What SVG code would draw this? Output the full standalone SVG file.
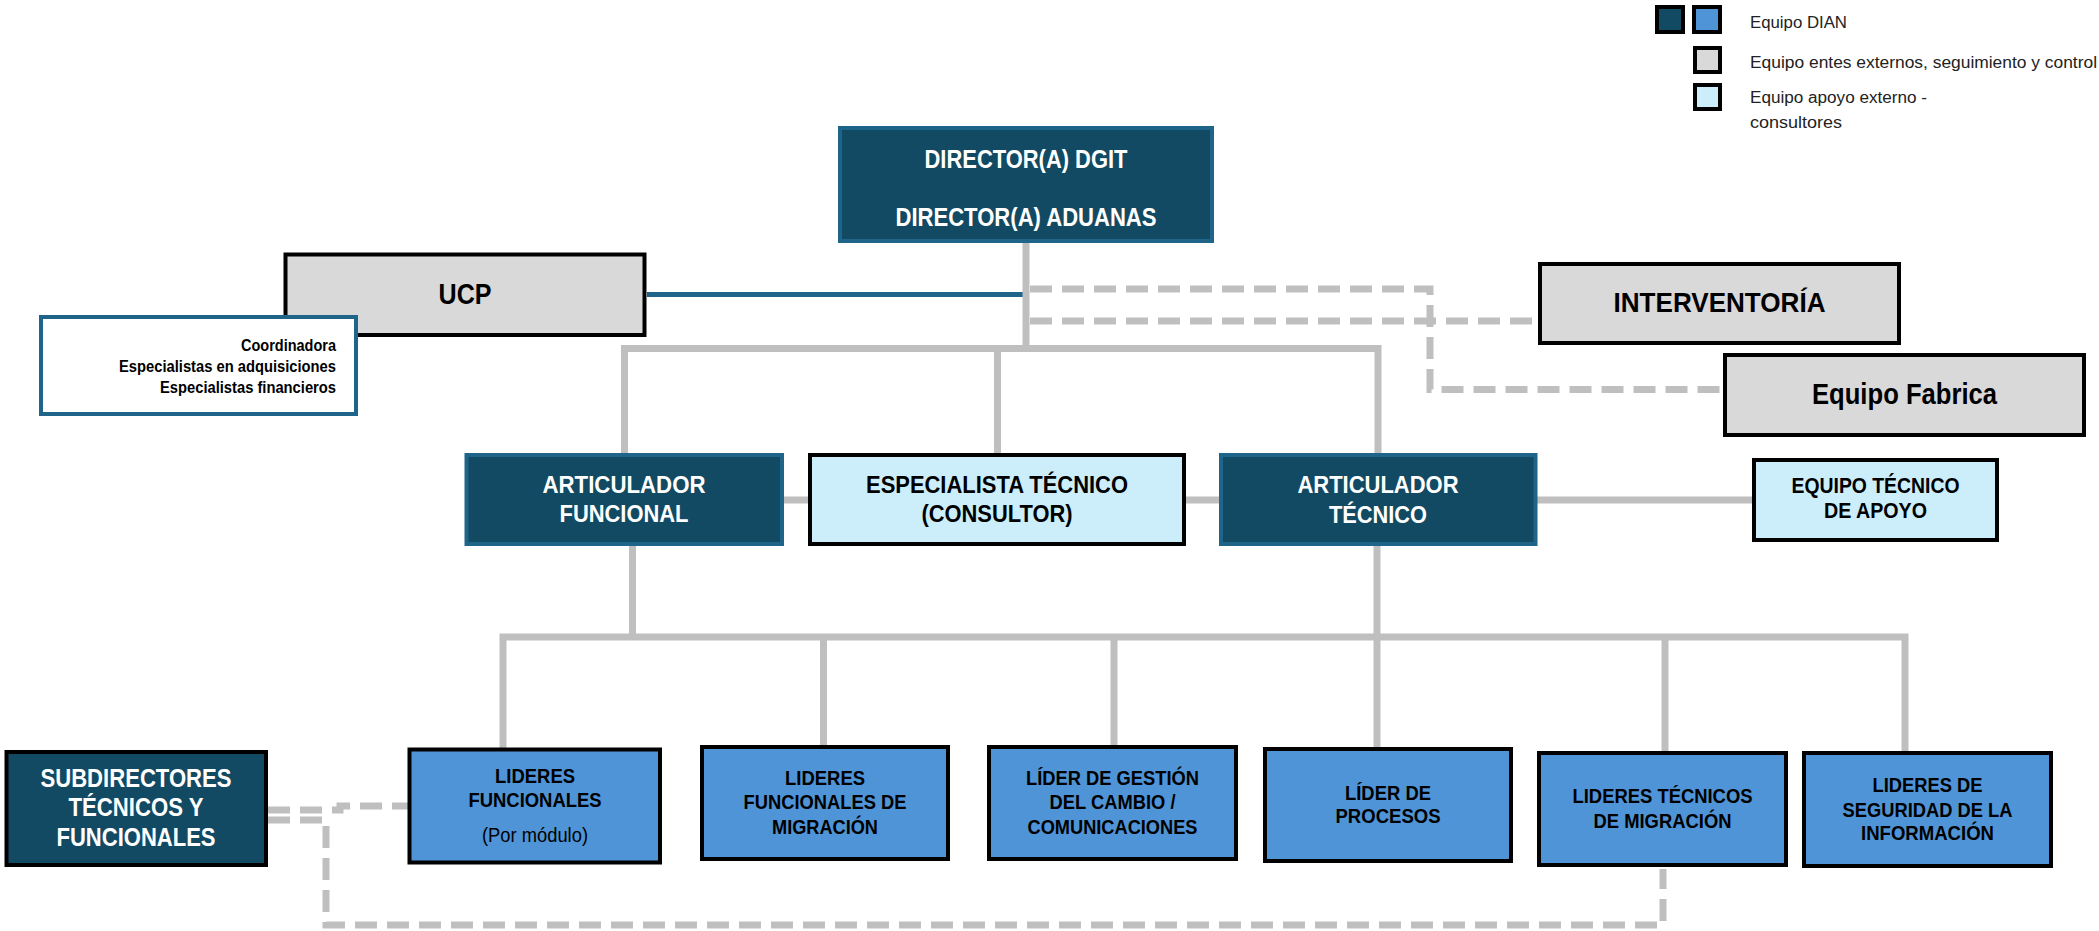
<svg xmlns="http://www.w3.org/2000/svg" width="2099" height="931" viewBox="0 0 2099 931">
<style>
.dark{fill:#124A63;stroke:#1F6489;stroke-width:4}
.darkb{fill:#124A63;stroke:#000;stroke-width:4}
.blue{fill:#4F94D7;stroke:#000;stroke-width:4}
.light{fill:#CCEEFA;stroke:#000;stroke-width:4}
.gray{fill:#D9D9D9;stroke:#000;stroke-width:4}
.note{fill:#FFFFFF;stroke:#1F6489;stroke-width:4}
.t{font-family:"Liberation Sans Narrow","Liberation Sans",Arial,sans-serif;font-weight:bold;text-anchor:middle}
.w{fill:#FFFFFF}
.k{fill:#000000}
.n{font-weight:normal}
.leg{font-family:"Liberation Sans",Arial,sans-serif;font-size:16px;fill:#222}
.solid{fill:none;stroke:#BFBFBF;stroke-width:7}
.dash{fill:none;stroke:#BFBFBF;stroke-width:7;stroke-dasharray:22 10}
.ucpl{fill:none;stroke:#1F6489;stroke-width:5}
</style>

<g id="connectors">
  <path class="ucpl" d="M647,294.5 H1024"/>
  <path class="solid" d="M1026,242 V348.5"/>
  <path class="solid" d="M624.5,455 V348.5 H1378 V455"/>
  <path class="solid" d="M997.5,348.5 V455"/>
  <path class="solid" d="M784,500 H810"/>
  <path class="solid" d="M1186,500 H1221"/>
  <path class="solid" d="M1537,500 H1754"/>
  <path class="solid" d="M632.5,546 V637"/>
  <path class="solid" d="M1377,546 V749"/>
  <path class="solid" d="M503,749 V637 H1905 V753"/>
  <path class="solid" d="M823.5,637 V747"/>
  <path class="solid" d="M1114,637 V747"/>
  <path class="solid" d="M1665,637 V753"/>
  <path class="dash" d="M1030,289 H1430 V389.5 H1725"/>
  <path class="dash" d="M1030,321 H1540"/>
  <path class="dash" d="M268,810 H340 V806 H409"/>
  <path class="dash" d="M268,820 H326 V925 H1663 V869"/>
</g>

<g id="legend">
  <rect class="darkb" x="1657" y="7" width="26" height="25"/>
  <rect class="blue" x="1694" y="7" width="26" height="25"/>
  <text class="leg" x="1750" y="28" textLength="97" lengthAdjust="spacingAndGlyphs">Equipo DIAN</text>
  <rect class="gray" x="1695" y="48" width="25" height="24"/>
  <text class="leg" x="1750" y="68" textLength="347" lengthAdjust="spacingAndGlyphs">Equipo entes externos, seguimiento y control</text>
  <rect class="light" x="1695" y="85" width="25" height="24"/>
  <text class="leg" x="1750" y="103" textLength="177" lengthAdjust="spacingAndGlyphs">Equipo apoyo externo -</text>
  <text class="leg" x="1750" y="128" textLength="92" lengthAdjust="spacingAndGlyphs">consultores</text>
</g>

<g id="director">
  <rect class="dark" x="840" y="128" width="372" height="113"/>
  <text class="t w" x="1026" y="168" font-size="26" textLength="203" lengthAdjust="spacingAndGlyphs">DIRECTOR(A) DGIT</text>
  <text class="t w" x="1026" y="226" font-size="26" textLength="261" lengthAdjust="spacingAndGlyphs">DIRECTOR(A) ADUANAS</text>
</g>

<g id="ucp">
  <rect class="gray" x="285.5" y="254.5" width="359" height="80.5"/>
  <text class="t k" x="465" y="304" font-size="29" textLength="53" lengthAdjust="spacingAndGlyphs">UCP</text>
</g>

<g id="ucp-equipo">
  <rect class="note" x="41" y="317" width="315" height="97"/>
  <text class="t k" style="text-anchor:end" x="336" y="351" font-size="16" textLength="95" lengthAdjust="spacingAndGlyphs">Coordinadora</text>
  <text class="t k" style="text-anchor:end" x="336" y="372" font-size="16" textLength="217" lengthAdjust="spacingAndGlyphs">Especialistas en adquisiciones</text>
  <text class="t k" style="text-anchor:end" x="336" y="393" font-size="16" textLength="176" lengthAdjust="spacingAndGlyphs">Especialistas financieros</text>
</g>

<g id="interventoria">
  <rect class="gray" x="1540" y="264" width="359" height="79"/>
  <text class="t k" x="1719.5" y="312" font-size="28" textLength="212" lengthAdjust="spacingAndGlyphs">INTERVENTORÍA</text>
</g>

<g id="equipo-fabrica">
  <rect class="gray" x="1725" y="355" width="359" height="80"/>
  <text class="t k" x="1904.5" y="404" font-size="30" textLength="185" lengthAdjust="spacingAndGlyphs">Equipo Fabrica</text>
</g>

<g id="articulador-funcional">
  <rect class="dark" x="466.5" y="455" width="315.5" height="89"/>
  <text class="t w" x="624" y="493" font-size="24" textLength="163" lengthAdjust="spacingAndGlyphs">ARTICULADOR</text>
  <text class="t w" x="624" y="522" font-size="24" textLength="129" lengthAdjust="spacingAndGlyphs">FUNCIONAL</text>
</g>

<g id="especialista-tecnico">
  <rect class="light" x="810" y="455" width="374" height="89"/>
  <text class="t k" x="997" y="493" font-size="24" textLength="262" lengthAdjust="spacingAndGlyphs">ESPECIALISTA TÉCNICO</text>
  <text class="t k" x="997" y="522" font-size="24" textLength="151" lengthAdjust="spacingAndGlyphs">(CONSULTOR)</text>
</g>

<g id="articulador-tecnico">
  <rect class="dark" x="1221" y="455" width="314.5" height="89"/>
  <text class="t w" x="1378" y="493" font-size="24" textLength="161" lengthAdjust="spacingAndGlyphs">ARTICULADOR</text>
  <text class="t w" x="1378" y="523" font-size="24" textLength="98" lengthAdjust="spacingAndGlyphs">TÉCNICO</text>
</g>

<g id="equipo-tecnico-apoyo">
  <rect class="light" x="1754" y="460" width="243" height="80"/>
  <text class="t k" x="1875.5" y="493" font-size="22" textLength="168" lengthAdjust="spacingAndGlyphs">EQUIPO TÉCNICO</text>
  <text class="t k" x="1875.5" y="518" font-size="22" textLength="103" lengthAdjust="spacingAndGlyphs">DE APOYO</text>
</g>

<g id="subdirectores">
  <rect class="darkb" x="6.5" y="752" width="259.5" height="113"/>
  <text class="t w" x="136" y="787" font-size="26" textLength="191" lengthAdjust="spacingAndGlyphs">SUBDIRECTORES</text>
  <text class="t w" x="136" y="816" font-size="26" textLength="135" lengthAdjust="spacingAndGlyphs">TÉCNICOS Y</text>
  <text class="t w" x="136" y="846" font-size="26" textLength="159" lengthAdjust="spacingAndGlyphs">FUNCIONALES</text>
</g>

<g id="lideres-funcionales">
  <rect class="blue" x="409.5" y="749.5" width="250.5" height="113"/>
  <text class="t k" x="535" y="783" font-size="21" textLength="80" lengthAdjust="spacingAndGlyphs">LIDERES</text>
  <text class="t k" x="535" y="807" font-size="21" textLength="133" lengthAdjust="spacingAndGlyphs">FUNCIONALES</text>
  <text class="t k n" x="535" y="842" font-size="21" textLength="106" lengthAdjust="spacingAndGlyphs">(Por módulo)</text>
</g>

<g id="lideres-funcionales-migracion">
  <rect class="blue" x="702" y="747" width="246" height="112"/>
  <text class="t k" x="825" y="785" font-size="21" textLength="80" lengthAdjust="spacingAndGlyphs">LIDERES</text>
  <text class="t k" x="825" y="809" font-size="21" textLength="163" lengthAdjust="spacingAndGlyphs">FUNCIONALES DE</text>
  <text class="t k" x="825" y="834" font-size="21" textLength="106" lengthAdjust="spacingAndGlyphs">MIGRACIÓN</text>
</g>

<g id="lider-gestion-cambio">
  <rect class="blue" x="989" y="747" width="247" height="112"/>
  <text class="t k" x="1112.5" y="785" font-size="21" textLength="173" lengthAdjust="spacingAndGlyphs">LÍDER DE GESTIÓN</text>
  <text class="t k" x="1112.5" y="809" font-size="21" textLength="126" lengthAdjust="spacingAndGlyphs">DEL CAMBIO /</text>
  <text class="t k" x="1112.5" y="834" font-size="21" textLength="170" lengthAdjust="spacingAndGlyphs">COMUNICACIONES</text>
</g>

<g id="lider-procesos">
  <rect class="blue" x="1265" y="749" width="246" height="112"/>
  <text class="t k" x="1388" y="800" font-size="21" textLength="86" lengthAdjust="spacingAndGlyphs">LÍDER DE</text>
  <text class="t k" x="1388" y="823" font-size="21" textLength="105" lengthAdjust="spacingAndGlyphs">PROCESOS</text>
</g>

<g id="lideres-tecnicos-migracion">
  <rect class="blue" x="1539" y="753" width="247" height="112"/>
  <text class="t k" x="1662.5" y="803" font-size="21" textLength="180" lengthAdjust="spacingAndGlyphs">LIDERES TÉCNICOS</text>
  <text class="t k" x="1662.5" y="828" font-size="21" textLength="138" lengthAdjust="spacingAndGlyphs">DE MIGRACIÓN</text>
</g>

<g id="lideres-seguridad">
  <rect class="blue" x="1804" y="753" width="247" height="113"/>
  <text class="t k" x="1927.5" y="792" font-size="21" textLength="110" lengthAdjust="spacingAndGlyphs">LIDERES DE</text>
  <text class="t k" x="1927.5" y="817" font-size="21" textLength="170" lengthAdjust="spacingAndGlyphs">SEGURIDAD DE LA</text>
  <text class="t k" x="1927.5" y="840" font-size="21" textLength="133" lengthAdjust="spacingAndGlyphs">INFORMACIÓN</text>
</g>
</svg>
